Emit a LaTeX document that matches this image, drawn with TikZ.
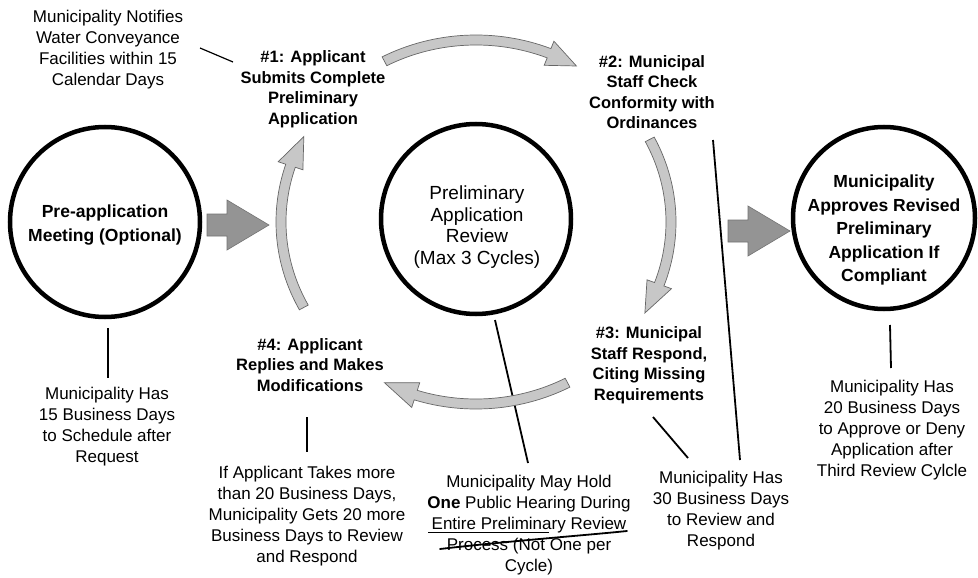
\documentclass[tikz,border=0pt]{standalone}
\usepackage{fontspec}
\setmainfont{Liberation Sans}
\usetikzlibrary{calc}
\newcommand\cycarr[3]{%
  \path[cycfill] ($(C)+(#1:200pt and 187pt)$)
    arc[start angle=#1,end angle=#2,x radius=200pt,y radius=187pt]
    -- ($(C)+(#2:208pt and 195pt)$)
    -- ($(C)+(#3:195pt and 182pt)$)
    -- ($(C)+(#2:182pt and 169pt)$)
    -- ($(C)+(#2:190pt and 177pt)$)
    arc[start angle=#2,end angle=#1,x radius=190pt,y radius=177pt] -- cycle;}
\newcommand\blockarr[1]{%
  \path[blockarrow] ($(#1)+(0,-11)$) -- ($(#1)+(20,-11)$) -- ($(#1)+(20,-25)$)
    -- ($(#1)+(62,0)$) -- ($(#1)+(20,25)$) -- ($(#1)+(20,11)$) -- ($(#1)+(0,11)$) -- cycle;}
\begin{document}
\begin{tikzpicture}[x=1pt,y=-1pt,
  bigcirc/.style={circle,draw=black,line width=4.5pt,minimum size=#1,inner sep=0pt},
  bigcirc/.default=190pt,
  annot/.style={align=center,inner sep=0pt,font=\fontsize{17}{21}\selectfont},
  steplbl/.style={align=center,inner sep=0pt,font=\fontsize{16.5}{20.5}\selectfont\bfseries},
  circtxt/.style={align=center,inner sep=0pt,font=\fontsize{17.5}{23.5}\selectfont\bfseries},
  midtxt/.style={align=center,inner sep=0pt,font=\fontsize{19}{21.5}\selectfont},
  link/.style={draw=black,line width=1.8pt},
  thinlink/.style={draw=black,line width=1.2pt},
  blockarrow/.style={fill=black!42,draw=black!55,line width=0.6pt},
  cycfill/.style={fill=black!22,draw=black!60,line width=0.7pt}]
\useasboundingbox (0,0) rectangle (978,578);
\fill[white] (0,0) rectangle (978,578);
\coordinate (C) at (476,222);

% circles
\node[bigcirc] (pre) at (105,222) {};
\node[circtxt] (pretxt) at (105,225) {Pre-application\\Meeting (Optional)};
\node[bigcirc] (mid) at (476,219) {};
\node[midtxt] (midtxt) at (477,227) {Preliminary\\Application\\Review\\(Max 3 Cycles)};
\node[bigcirc=182pt] (app) at (884,218) {};
\node[circtxt] (apptxt) at (884,230) {Municipality\\Approves Revised\\Preliminary\\Application If\\Compliant};

% step labels
\node[steplbl] (s1) at (313,89) {\#1: Applicant\\Submits Complete\\Preliminary\\Application};
\node[steplbl] (s2) at (652,92) {\#2: Municipal\\Staff Check\\Conformity with\\Ordinances};
\node[steplbl] (s3) at (649,365) {\#3: Municipal\\Staff Respond,\\Citing Missing\\Requirements};
\node[steplbl] (s4) at (310,365) {\#4: Applicant\\Replies and Makes\\Modifications};

% annotations
\node[annot] (notify) at (108,50) {Municipality Notifies\\Water Conveyance\\Facilities within 15\\Calendar Days};
\node[annot] (d15) at (107,427) {Municipality Has\\15 Business Days\\to Schedule after\\Request};
\node[annot] (d20more) at (307,516) {If Applicant Takes more\\than 20 Business Days,\\Municipality Gets 20 more\\Business Days to Review\\and Respond};
\node[annot] (hearing) at (529,525) {Municipality May Hold\\\textbf{One} Public Hearing During\\Entire Preliminary Review\\Process (Not One per\\Cycle)};
\node[annot] (d30) at (721,511) {Municipality Has\\30 Business Days\\to Review and\\Respond};
\node[annot] (d20) at (892,430) {Municipality Has\\20 Business Days\\to Approve or Deny\\Application after\\Third Review Cylcle};

% connector end points
\coordinate (nA) at (200,48);  \coordinate (nB) at (233,62);
\coordinate (pA) at (108,328); \coordinate (pB) at (108,378);
\coordinate (qA) at (307,417); \coordinate (qB) at (307,452);
\coordinate (mA) at (495,320); \coordinate (mB) at (528,463);
\coordinate (tA) at (653,417); \coordinate (tB) at (688,458);
\coordinate (cA) at (713,140); \coordinate (cB) at (740,460);
\coordinate (rA) at (890,325); \coordinate (rB) at (891,368);

\draw[thinlink] (nA) -- (nB);
\draw[link] (pA) -- (pB);
\draw[link] (qA) -- (qB);
\draw[link] (mA) -- (mB);
\draw[link] (tA) -- (tB);
\draw[link] (cA) -- (cB);
\draw[link] (rA) -- (rB);

% hand-drawn underline
\draw[black,line width=0.8pt] ($(hearing)+(-101,7)$) -- ($(hearing)+(20,7)$);
\draw[black,line width=1.8pt,line cap=round] ($(hearing)+(-89,24)$) .. controls ($(hearing)+(-20,16)$) and ($(hearing)+(60,10)$) .. ($(hearing)+(98,6)$);

% block arrows
\coordinate (ba1) at (207,225);
\coordinate (ba2) at (728,231);
\blockarr{ba1}
\blockarr{ba2}

% cycle arrows
\cycarr{118}{68}{59}
\cycarr{27}{-20}{-30}
\cycarr{-62}{-108}{-118}
\cycarr{208}{162}{152}
\end{tikzpicture}
\end{document}
